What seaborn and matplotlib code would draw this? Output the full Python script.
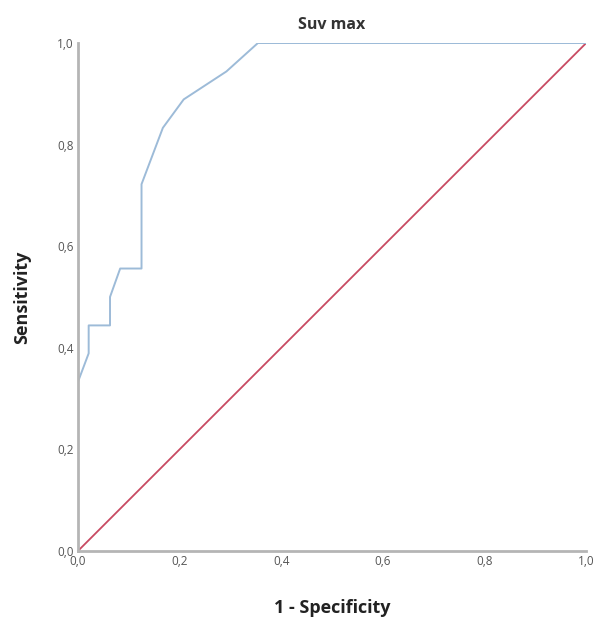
import numpy as np
import pandas as pd
import seaborn as sns
import matplotlib
matplotlib.use("Agg")
import matplotlib.pyplot as plt
from matplotlib.ticker import FuncFormatter

# ROC points
fpr = [0.0, 0.0, 0.021, 0.021, 0.063, 0.063, 0.083, 0.125, 0.125, 0.167, 0.208, 0.292, 0.354, 1.0]
tpr = [0.0, 0.333, 0.389, 0.444, 0.444, 0.5, 0.556, 0.556, 0.722, 0.833, 0.889, 0.944, 1.0, 1.0]
ref_line = [0.0, 1.0]
ticks = [0.0, 0.2, 0.4, 0.6, 0.8, 1.0]

sns.set_style("white")
plt.rcParams['font.family'] = ['Open Sans', 'DejaVu Sans']

roc = pd.DataFrame({'fpr': fpr, 'tpr': tpr, 'step': np.arange(len(fpr))})
diag = pd.DataFrame({'x': ref_line, 'y': ref_line})

fig = plt.figure(figsize=(6, 6.19), dpi=100)
ax = fig.add_axes([0.13, 0.11, 0.847, 0.8205])

sns.lineplot(data=diag, x='x', y='y', color='#c84a62', linewidth=1.3, ax=ax)
sns.lineplot(data=roc, x='fpr', y='tpr', sort=False, estimator=None,
             color='#9dbbd8', linewidth=1.4, ax=ax)

ax.set_xlim(0, 1)
ax.set_ylim(0, 1)
ax.set_xticks(ticks)
ax.set_yticks(ticks)
fmt = FuncFormatter(lambda v, p: f"{v:.1f}".replace('.', ','))
ax.xaxis.set_major_formatter(fmt)
ax.yaxis.set_major_formatter(fmt)
ax.tick_params(axis='both', length=0, labelsize=8.5, colors='#555555', pad=3)

sns.despine(ax=ax)
for s in ['left', 'bottom']:
    ax.spines[s].set_color('#b5b5b5')
    ax.spines[s].set_linewidth(2)

ax.set_title("Suv max", fontsize=11.5, fontweight='bold', color='#333333', pad=10)
ax.set_xlabel("1 - Specificity", fontsize=13, fontweight='bold', color='#222222', labelpad=22)
ax.set_ylabel("Sensitivity", fontsize=13, fontweight='bold', color='#222222', labelpad=19)

fig.savefig("out.png", dpi=100)
